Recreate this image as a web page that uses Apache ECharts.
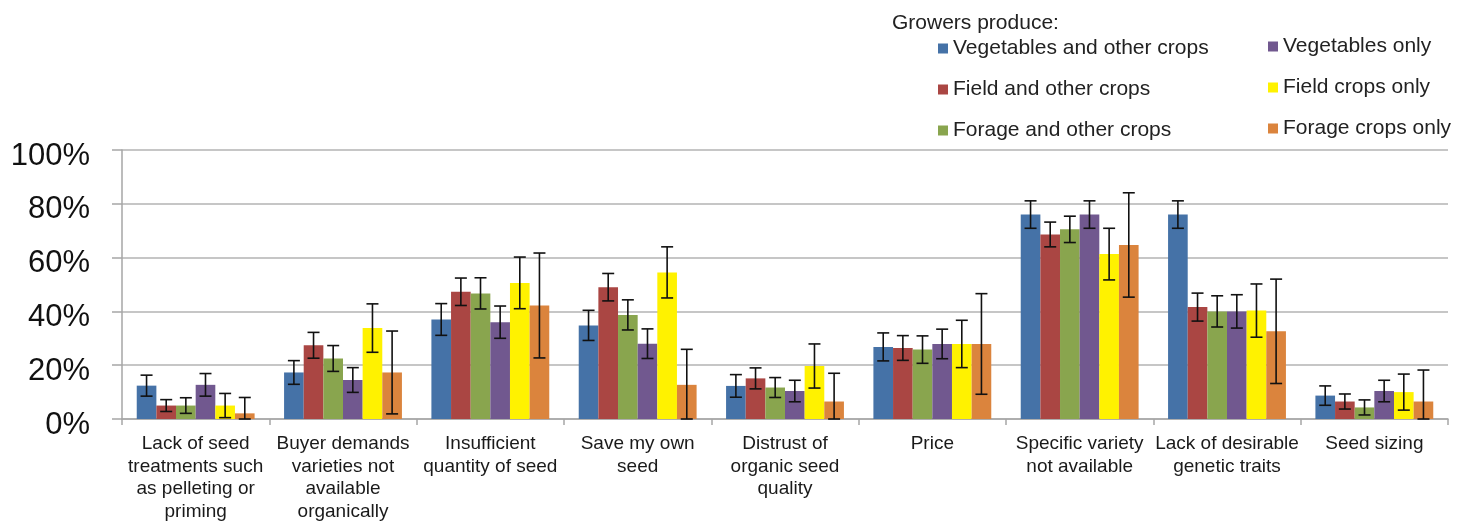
<!DOCTYPE html>
<html>
<head>
<meta charset="utf-8">
<script src="https://cdn.jsdelivr.net/npm/echarts@6/dist/echarts.min.js"></script>
<style>
  html, body { margin: 0; padding: 0; background: #ffffff; }
  #chart { width: 1469px; height: 523px; }
</style>
</head>
<body>
<div id="chart"></div>
<script>
// ---------- DATA ----------
const categories = [
  'Lack of seed\ntreatments such\nas pelleting or\npriming',
  'Buyer demands\nvarieties not\navailable\norganically',
  'Insufficient\nquantity of seed',
  'Save my own\nseed',
  'Distrust of\norganic seed\nquality',
  'Price',
  'Specific variety\nnot available',
  'Lack of desirable\ngenetic traits',
  'Seed sizing'
];
const seriesNames = [
  'Vegetables and other crops',
  'Field and other crops',
  'Forage and other crops',
  'Vegetables only',
  'Field crops only',
  'Forage crops only'
];
const yTicks = [0, 20, 40, 60, 80, 100];

// Percent of growers (bar heights)
const vegOther    = [12.4, 17.3, 37.0, 34.8, 12.3, 26.8, 76.0, 76.0, 8.7];
const fieldOther  = [5.0, 27.4, 47.3, 49.0, 15.1, 26.4, 68.6, 41.6, 6.5];
const forageOther = [5.0, 22.5, 46.7, 38.7, 11.7, 25.8, 70.5, 40.0, 4.3];
const vegOnly     = [12.7, 14.5, 36.0, 28.0, 10.4, 27.9, 76.0, 40.0, 10.4];
const fieldOnly   = [5.0, 33.8, 50.6, 54.5, 19.7, 27.9, 61.3, 40.3, 10.0];
const forageOnly  = [2.1, 17.3, 42.2, 12.7, 6.5, 27.9, 64.7, 32.6, 6.5];

// Error bar half-widths (percentage points), clipped at 0
const vegOtherErr    = [3.9, 4.4, 5.9, 5.6, 4.2, 5.2, 5.1, 5.1, 3.6];
const fieldOtherErr  = [2.2, 4.8, 5.1, 5.1, 3.9, 4.6, 4.6, 5.2, 2.8];
const forageOtherErr = [2.9, 4.8, 5.8, 5.6, 3.7, 5.1, 4.9, 5.8, 2.8];
const vegOnlyErr     = [4.2, 4.6, 6.0, 5.5, 4.0, 5.5, 5.1, 6.2, 4.0];
const fieldOnlyErr   = [4.5, 9.0, 9.6, 9.5, 8.2, 8.8, 9.6, 9.9, 6.7];
const forageOnlyErr  = [5.9, 15.4, 19.5, 13.2, 10.5, 18.7, 19.4, 19.4, 11.7];

// ---------- STYLE ----------
const colors = ['#4572A7', '#AA4643', '#89A54E', '#71588F', '#FFF200', '#DB843D'];
const values = [vegOther, fieldOther, forageOther, vegOnly, fieldOnly, forageOnly];
const errs = [vegOtherErr, fieldOtherErr, forageOtherErr, vegOnlyErr, fieldOnlyErr, forageOnlyErr];
const CAT_GAP = 0.2;
const NBARS = seriesNames.length;

const chart = echarts.init(document.getElementById('chart'));

const barSeries = seriesNames.map((name, i) => ({
  name: name,
  type: 'bar',
  data: values[i],
  barGap: '0%',
  barCategoryGap: (CAT_GAP * 100) + '%',
  itemStyle: { color: colors[i] },
  emphasis: { disabled: true },
  z: 2
}));

const errSeries = seriesNames.map((name, i) => ({
  name: 'err' + i,
  type: 'custom',
  z: 5,
  silent: true,
  data: values[i].map((v, k) => [k, Math.max(0, v - errs[i][k]), v + errs[i][k]]),
  encode: { x: 0, y: [1, 2] },
  renderItem: function (params, api) {
    const cat = api.value(0);
    const lo = api.value(1);
    const hi = api.value(2);
    const pHi = api.coord([cat, hi]);
    const pLo = api.coord([cat, lo]);
    const band = api.size([1, 0])[0];
    const total = band * (1 - CAT_GAP);
    const bw = total / NBARS;
    const x = pHi[0] - total / 2 + bw * (i + 0.5);
    const cap = 6;
    const style = { stroke: '#111', lineWidth: 1.6 };
    return {
      type: 'group',
      children: [
        { type: 'line', shape: { x1: x, y1: pHi[1], x2: x, y2: pLo[1] }, style: style },
        { type: 'line', shape: { x1: x - cap, y1: pHi[1], x2: x + cap, y2: pHi[1] }, style: style },
        { type: 'line', shape: { x1: x - cap, y1: pLo[1], x2: x + cap, y2: pLo[1] }, style: style }
      ]
    };
  }
}));

const legendText = { fontSize: 21, color: '#222', fontFamily: 'Liberation Sans, Arial, sans-serif', lineHeight: 21 };

const option = {
  animation: false,
  backgroundColor: '#ffffff',
  textStyle: { fontFamily: 'Liberation Sans, Arial, sans-serif' },
  graphic: [{
    type: 'text',
    left: 892,
    top: 13,
    style: {
      text: 'Growers produce:',
      font: '21px "Liberation Sans", Arial, sans-serif',
      fill: '#222'
    }
  }],
  legend: [{
    data: seriesNames.slice(0, 3),
    orient: 'vertical',
    left: 938,
    top: 38,
    padding: 0,
    itemWidth: 10,
    itemHeight: 10,
    itemGap: 20,
    icon: 'rect',
    selectedMode: false,
    textStyle: legendText
  }, {
    data: seriesNames.slice(3, 6),
    orient: 'vertical',
    left: 1268,
    top: 36,
    padding: 0,
    itemWidth: 10,
    itemHeight: 10,
    itemGap: 20,
    icon: 'rect',
    selectedMode: false,
    textStyle: legendText
  }],
  grid: { left: 122, right: 21, top: 150, bottom: 102, containLabel: false },
  xAxis: {
    type: 'category',
    data: categories,
    axisLine: { lineStyle: { color: '#a6a6a6', width: 1.5 } },
    axisTick: { show: true, length: 6, lineStyle: { color: '#a6a6a6', width: 1.5 } },
    axisLabel: {
      interval: 0,
      fontSize: 19,
      lineHeight: 22.5,
      color: '#1a1a1a',
      margin: 14,
      fontFamily: 'Liberation Sans, Arial, sans-serif'
    },
    splitLine: { show: false }
  },
  yAxis: {
    type: 'value',
    min: yTicks[0],
    max: yTicks[yTicks.length - 1],
    interval: 20,
    axisLine: { show: true, lineStyle: { color: '#a6a6a6', width: 1.5 } },
    axisTick: { show: true, length: 10, lineStyle: { color: '#a6a6a6', width: 1.5 } },
    axisLabel: {
      formatter: '{value}%',
      fontSize: 31,
      color: '#111',
      margin: 32,
      verticalAlign: 'top',
      lineHeight: 12,
      fontFamily: 'Liberation Sans, Arial, sans-serif'
    },
    splitLine: { show: true, lineStyle: { color: '#b3b3b3', width: 1.5 } }
  },
  series: barSeries.concat(errSeries)
};

chart.setOption(option);
</script>
</body>
</html>
